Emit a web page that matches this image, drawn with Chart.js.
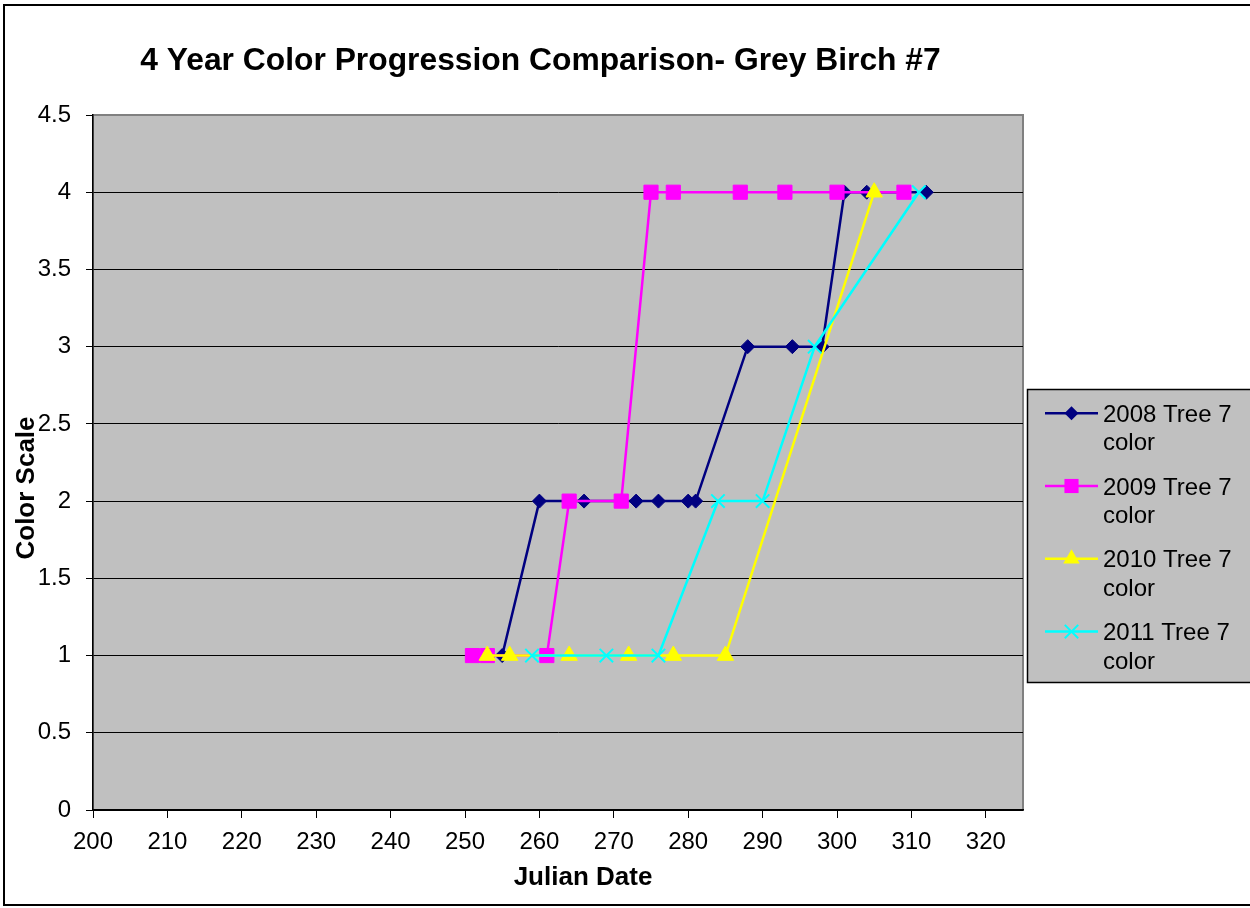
<!DOCTYPE html>
<html><head><meta charset="utf-8">
<script src="https://cdn.jsdelivr.net/npm/chart.js@4.4.1/dist/chart.umd.min.js"></script>
<style>html,body{margin:0;padding:0;background:#fff;overflow:hidden}canvas{display:block}</style>
</head><body>
<canvas id="c" width="1250" height="908"></canvas>
<script>
const chartTitle = "4 Year Color Progression Comparison- Grey Birch #7";
const xTitle = "Julian Date";
const yTitle = "Color Scale";
const legendLines = [["2008 Tree 7", "color"], ["2009 Tree 7", "color"], ["2010 Tree 7", "color"], ["2011 Tree 7", "color"]];

const days2008 = [255, 260, 266, 273, 276, 280, 281, 288, 294, 298, 301, 304, 312];
const color2008 = [1, 2, 2, 2, 2, 2, 2, 3, 3, 3, 4, 4, 4];
const days2009 = [251, 253, 261, 264, 271, 275, 278, 287, 293, 300, 309];
const color2009 = [1, 1, 1, 2, 2, 4, 4, 4, 4, 4, 4];
const days2010 = [253, 256, 264, 272, 278, 285, 305];
const color2010 = [1, 1, 1, 1, 1, 1, 4];
const days2011 = [259, 269, 276, 284, 290, 297, 311];
const color2011 = [1, 1, 1, 2, 2, 3, 4];

const xTickValues = [200, 210, 220, 230, 240, 250, 260, 270, 280, 290, 300, 310, 320];
const yTickValues = [0, 0.5, 1, 1.5, 2, 2.5, 3, 3.5, 4, 4.5];

const pts = (xs, ys) => xs.map((x, i) => ({x: x, y: ys[i]}));

const styles = [
  {color: '#000080', point: 'rectRot', r: 7},
  {color: '#FF00FF', point: 'rect', r: 10},
  {color: '#FFFF00', point: 'triangle', r: 9.5},
  {color: '#00FFFF', point: 'crossRot', r: 9.5}
];
const allData = [pts(days2008, color2008), pts(days2009, color2009), pts(days2010, color2010), pts(days2011, color2011)];

const datasets = allData.map((d, i) => ({
  label: legendLines[i].join(' '),
  data: d,
  showLine: true,
  borderColor: styles[i].color,
  backgroundColor: styles[i].color,
  borderWidth: 2.5,
  pointStyle: styles[i].point,
  pointRadius: styles[i].r,
  pointHoverRadius: styles[i].r,
  pointBorderWidth: i === 3 ? 2 : 1,
  pointBorderColor: styles[i].color,
  pointBackgroundColor: styles[i].color,
  tension: 0,
  order: 4 - i
}));

const FONT = "'Liberation Sans', Arial, sans-serif";

function drawMarker(ctx, style, x, y, r, color) {
  ctx.save();
  ctx.fillStyle = color; ctx.strokeStyle = color; ctx.lineWidth = 2;
  ctx.beginPath();
  if (style === 'rectRot') {
    ctx.moveTo(x - r, y); ctx.lineTo(x, y - r); ctx.lineTo(x + r, y); ctx.lineTo(x, y + r); ctx.closePath(); ctx.fill();
  } else if (style === 'rect') {
    const s = Math.SQRT1_2 * r; ctx.rect(x - s, y - s, 2 * s, 2 * s); ctx.fill();
  } else if (style === 'triangle') {
    ctx.moveTo(x, y - r); ctx.lineTo(x + r * 0.866, y + r / 2); ctx.lineTo(x - r * 0.866, y + r / 2); ctx.closePath(); ctx.fill();
  } else if (style === 'crossRot') {
    const s = Math.SQRT1_2 * r;
    ctx.moveTo(x - s, y - s); ctx.lineTo(x + s, y + s); ctx.moveTo(x + s, y - s); ctx.lineTo(x - s, y + s); ctx.stroke();
  }
  ctx.restore();
}

const decor = {
  id: 'decor',
  beforeDraw(chart) {
    const {ctx, chartArea: a} = chart;
    ctx.save();
    ctx.fillStyle = '#fff';
    ctx.fillRect(0, 0, chart.width, chart.height);
    ctx.fillStyle = '#C0C0C0';
    ctx.fillRect(a.left, a.top, a.right - a.left, a.bottom - a.top);
    ctx.strokeStyle = '#808080'; ctx.lineWidth = 2;
    ctx.strokeRect(a.left, a.top, a.right - a.left, a.bottom - a.top);
    ctx.restore();
  },
  afterDraw(chart) {
    const ctx = chart.ctx;
    ctx.save();
    // outer frame
    ctx.strokeStyle = '#000'; ctx.lineWidth = 2;
    ctx.beginPath();
    ctx.moveTo(1252, 5); ctx.lineTo(4, 5); ctx.lineTo(4, 905); ctx.lineTo(1252, 905);
    ctx.stroke();
    // title
    ctx.fillStyle = '#000';
    ctx.textAlign = 'center'; ctx.textBaseline = 'alphabetic';
    ctx.font = "bold 31.8px " + FONT;
    ctx.fillText(chartTitle, 540.5, 70);
    ctx.font = "bold 26px " + FONT;
    ctx.fillText(xTitle, 583, 885);
    ctx.save();
    ctx.translate(34, 488); ctx.rotate(-Math.PI / 2);
    ctx.fillText(yTitle, 0, 0);
    ctx.restore();
    // legend
    ctx.fillStyle = '#C0C0C0';
    ctx.fillRect(1027.5, 389.5, 240, 293);
    ctx.strokeStyle = '#000'; ctx.lineWidth = 1.5;
    ctx.strokeRect(1027.5, 389.5, 240, 293);
    ctx.font = "24px " + FONT; ctx.textAlign = 'left';
    legendLines.forEach((lines, i) => {
      const base = 421.7 + i * 72.8;
      const ly = base - 8.5;
      ctx.strokeStyle = styles[i].color; ctx.lineWidth = 2.5;
      ctx.beginPath(); ctx.moveTo(1045, ly); ctx.lineTo(1098, ly); ctx.stroke();
      drawMarker(ctx, styles[i].point, 1071.5, ly, styles[i].r, styles[i].color);
      ctx.fillStyle = '#000';
      ctx.fillText(lines[0], 1103, base);
      ctx.fillText(lines[1], 1103, base + 28.5);
    });
    ctx.restore();
  }
};

new Chart(document.getElementById('c'), {
  type: 'scatter',
  data: {datasets: datasets},
  plugins: [decor],
  options: {
    responsive: false,
    animation: false,
    devicePixelRatio: 1,
    layout: {padding: {top: 115, right: 227, left: 0, bottom: 0}},
    plugins: {legend: {display: false}, title: {display: false}, tooltip: {enabled: false}},
    scales: {
      x: {
        type: 'linear', min: 200, max: 325,
        afterFit(s) { s.height = 98; },
        afterBuildTicks(s) { s.ticks = xTickValues.map(v => ({value: v})); },
        grid: {drawOnChartArea: false, drawTicks: true, tickLength: 8, tickColor: '#000', tickWidth: 1},
        border: {display: true, color: '#000', width: 1.5},
        ticks: {color: '#000', font: {family: FONT, size: 24}, padding: 10, maxRotation: 0, autoSkip: false, callback: v => String(v)}
      },
      y: {
        type: 'linear', min: 0, max: 4.5,
        afterFit(s) { s.width = 93; },
        afterBuildTicks(s) { s.ticks = yTickValues.map(v => ({value: v})); },
        grid: {color: ctx => (ctx.tick && ctx.tick.value === 4.5) ? '#808080' : '#000', lineWidth: 1, drawTicks: true, tickLength: 7, tickColor: '#000'},
        border: {display: true, color: '#000', width: 1.5},
        ticks: {color: '#000', font: {family: FONT, size: 24}, padding: 15, autoSkip: false, callback: v => String(v)}
      }
    }
  }
});
</script>
</body></html>
